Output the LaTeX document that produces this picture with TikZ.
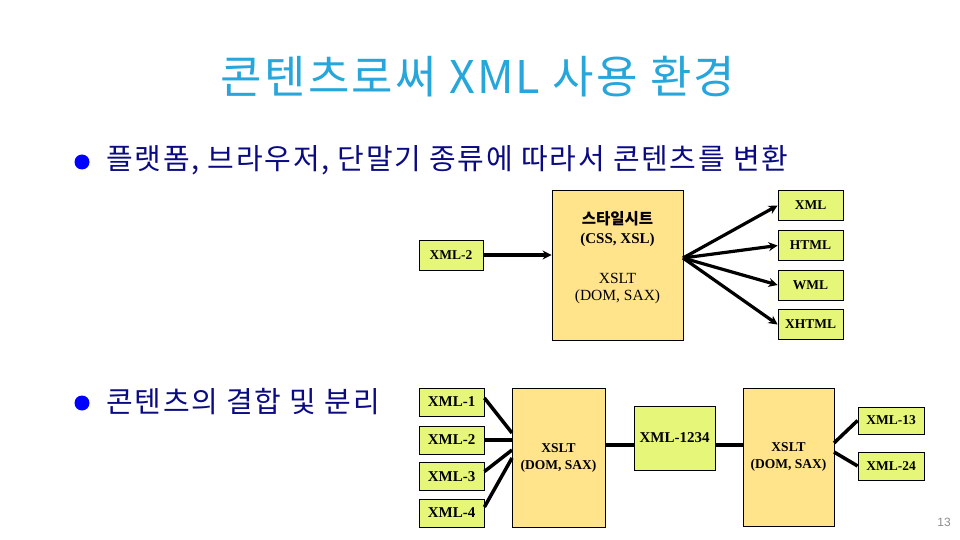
\documentclass[tikz,border=0pt]{standalone}
\usepackage{fontspec}
\setmainfont{Liberation Serif}
\newfontfamily\kr{Noto Sans CJK KR}
\newfontfamily\krwide[LetterSpace=5]{Noto Sans CJK KR}
\newfontfamily\krwider[LetterSpace=6]{Noto Sans CJK KR}
\newfontfamily\pgsans{Liberation Sans}
\usetikzlibrary{arrows.meta}
\definecolor{titlecol}{RGB}{38,166,218}
\definecolor{navy}{RGB}{10,10,130}
\definecolor{bulletcol}{RGB}{0,0,255}
\definecolor{smallfill}{RGB}{230,246,120}
\definecolor{bigfill}{RGB}{255,228,140}
\tikzset{
  smallbox/.style={draw=black, line width=0.8pt, fill=smallfill, inner sep=0pt,
    font=\fontsize{13.5}{15}\selectfont\bfseries},
  smallboxb/.style={smallbox, font=\fontsize{15}{17}\selectfont\bfseries},
  bigbox/.style={draw=black, line width=0.8pt, fill=bigfill, inner sep=0pt, align=center,
    font=\fontsize{13.5}{17}\selectfont},
  conn/.style={line width=3.5pt, draw=black},
  arr/.style={line width=3.2pt, draw=black, -{Stealth[length=9pt,width=9pt]}},
  bullet/.style={circle, fill=bulletcol, inner sep=0pt, minimum size=15pt},
  bultext/.style={anchor=west, text=navy, inner sep=0pt},
}
\begin{document}
\begin{tikzpicture}[x=1pt,y=-1pt]
\useasboundingbox (0,0) rectangle (960,540);
% title
\node[text=titlecol, font=\krwide\fontsize{45}{48}\selectfont, inner sep=0pt] (title) at (478,77) {콘텐츠로써 XML 사용 환경};
% bullets
\node[bullet] (b1dot) at (82,162) {};
\node[bultext, font=\krwider\fontsize{29}{32}\selectfont] (line1) at (106,160) {플랫폼, 브라우저, 단말기 종류에 따라서 콘텐츠를 변환};
\node[bullet] (b2dot) at (82,403) {};
\node[bultext, font=\krwider\fontsize{29}{32}\selectfont] (line2) at (106,402) {콘텐츠의 결합 및 분리};

% ---------- top diagram ----------
\node[bigbox, minimum width=131pt, minimum height=150pt] (tbig) at (617.5,265) {};
\node[font=\kr\bfseries\fontsize{15.5}{17}\selectfont, inner sep=0pt] (tk) at (617.5,219) {스타일시트};
\node[font=\fontsize{15}{17}\selectfont\bfseries, inner sep=0pt] (tcss) at (617.5,240) {(CSS, XSL)};
\node[font=\fontsize{15.5}{17}\selectfont, inner sep=0pt] (txslt) at (617.5,278) {XSLT};
\node[font=\fontsize{15.5}{17}\selectfont, inner sep=0pt] (tdom) at (617.5,297) {(DOM, SAX)};

\node[smallbox, minimum width=64pt, minimum height=30pt] (tx2) at (451,255) {XML-2};
\node[smallbox, minimum width=65pt, minimum height=30pt] (oxml) at (810.5,205.5) {XML};
\node[smallbox, minimum width=65pt, minimum height=30pt] (ohtml) at (810.5,245.5) {HTML};
\node[smallbox, minimum width=65pt, minimum height=30pt] (owml) at (810.5,285) {WML};
\node[smallbox, minimum width=65pt, minimum height=30pt] (oxhtml) at (810.5,324.5) {XHTML};

\draw[arr] (tx2.east) -- (tx2.east -| tbig.west);
\coordinate (fan) at (683,258);
\draw[arr] (fan) -- (oxml.west);
\draw[arr] (fan) -- (ohtml.west);
\draw[arr] (fan) -- (owml.west);
\draw[arr] (fan) -- (oxhtml.west);

% ---------- bottom diagram ----------
\node[smallboxb, minimum width=65pt, minimum height=28pt] (s1) at (451.5,402) {XML-1};
\node[smallboxb, minimum width=65pt, minimum height=28pt] (s2) at (451.5,440) {XML-2};
\node[smallboxb, minimum width=65pt, minimum height=28pt] (s3) at (451.5,476.5) {XML-3};
\node[smallboxb, minimum width=65pt, minimum height=28pt] (s4) at (451.5,513) {XML-4};
\node[bigbox, font=\fontsize{13.5}{17}\selectfont\bfseries, minimum width=93pt, minimum height=139pt] (bb1) at (558.5,457.5) {XSLT\\(DOM, SAX)};
\node[smallboxb, minimum width=81pt, minimum height=64pt] (mid) at (674.5,438) {XML-1234};
\node[bigbox, font=\fontsize{13.5}{17}\selectfont\bfseries, minimum width=91pt, minimum height=138pt] (bb2) at (788.5,457) {XSLT\\(DOM, SAX)};
\node[smallbox, minimum width=66pt, minimum height=27pt] (o13) at (891,420.5) {XML-13};
\node[smallbox, minimum width=66pt, minimum height=28pt] (o24) at (891,466) {XML-24};

\coordinate (in1) at (512,433);
\coordinate (in2) at (512,440);
\coordinate (in3) at (512,450);
\coordinate (in4) at (512,458);
\draw[conn] ([yshift=4pt]s1.east) -- (in1);
\draw[conn] (s2.east) -- (in2);
\draw[conn] ([yshift=5pt]s3.east) -- (in3);
\draw[conn] ([yshift=6pt]s4.east) -- (in4);
\draw[conn] ([yshift=-7pt]mid.west -| bb1.east) -- ([yshift=-7pt]mid.west);
\draw[conn] ([yshift=-7pt]mid.east) -- ([yshift=-7pt]mid.east -| bb2.west);
\coordinate (out1) at (834,443);
\coordinate (out2) at (834,452);
\draw[conn] (out1) -- (o13.west);
\draw[conn] (out2) -- (o24.west);

% page number
\node[text=black!45, font=\pgsans\fontsize{12}{14}\selectfont, inner sep=0pt] (pnum) at (944,522) {13};
\end{tikzpicture}
\end{document}
